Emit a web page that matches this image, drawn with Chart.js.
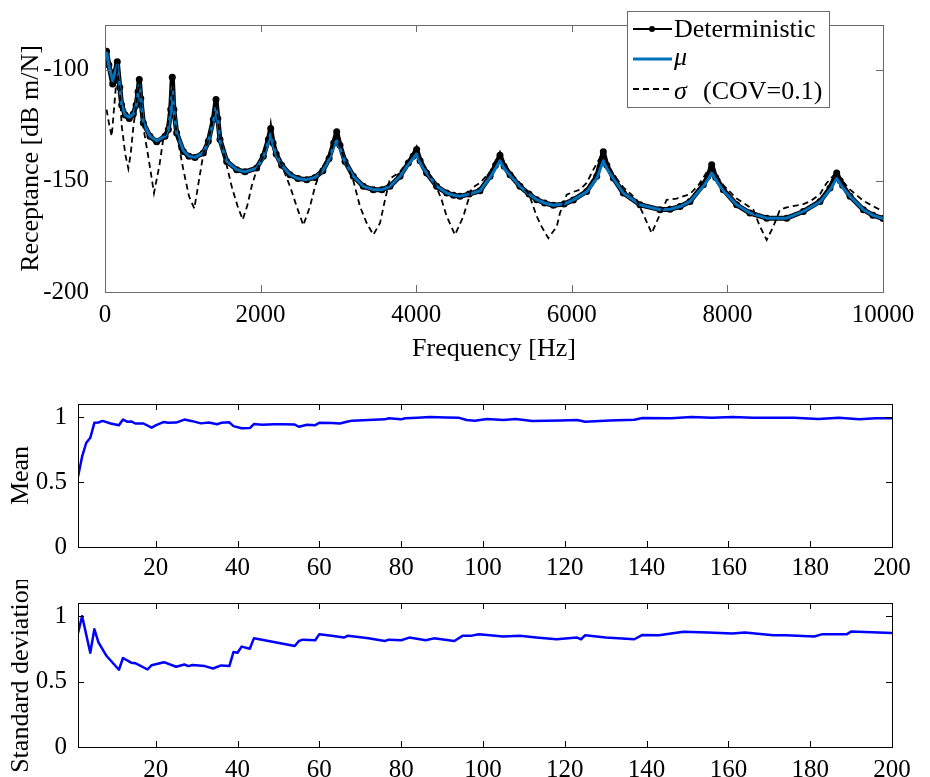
<!DOCTYPE html>
<html>
<head>
<meta charset="utf-8">
<script src="https://cdn.jsdelivr.net/npm/chart.js@4.4.1/dist/chart.umd.min.js"></script>
<style>
  body { margin: 0; background: #fff; }
  #wrap { position: relative; width: 930px; height: 777px; overflow: hidden; }
  canvas { position: absolute; left: 0; }
</style>
</head>
<body>
<div id="wrap">
  <canvas id="frf" width="930" height="380" style="top:0px"></canvas>
  <canvas id="mean" width="930" height="200" style="top:380px"></canvas>
  <canvas id="std" width="930" height="197" style="top:580px"></canvas>
</div>
<script>
/* ===============================
   DATA
================================*/
// top plot: receptance vs frequency
const detFreq = [20, 50, 99, 130, 158, 190, 214, 260, 312, 364, 400, 425, 441, 460, 493, 578, 664, 771, 814, 845, 865,
  885, 921, 1007, 1080, 1157, 1264, 1328, 1392, 1427, 1450, 1478, 1564, 1693, 1800, 1950, 2035, 2100, 2130,
  2160, 2200, 2271, 2378, 2480, 2592, 2700, 2800, 2880, 2940, 2978, 3020, 3085, 3192, 3320, 3449, 3560, 3663,
  3792, 3899, 3960, 4006, 4050, 4134, 4263, 4392, 4480, 4563, 4680, 4820, 4949, 5020, 5077, 5130, 5206, 5334,
  5450, 5549, 5650, 5763, 5900, 6020, 6191, 6320, 6405, 6450, 6534, 6662, 6877, 7134, 7262, 7391, 7519, 7690,
  7750, 7798, 7850, 7947, 8119, 8290, 8505, 8762, 8976, 9190, 9319, 9405, 9450, 9480, 9576, 9748, 9870, 10000];
const detDb = [-91.8, -98, -106.5, -101, -96.5, -108, -116, -120.5, -122, -120, -116, -110, -104.5, -113, -124, -130, -132.5, -130, -127, -118, -103.5,
  -118, -128.5, -136.8, -139, -139.5, -137.5, -132.3, -122.5, -113.5, -122, -131.5, -141.3, -145, -146, -144.3, -139, -131.5, -126.5,
  -133, -138, -143, -147.3, -149, -149.5, -148.5, -145.5, -140, -133, -128, -134, -141.3, -148, -152.5, -154, -154, -152.5,
  -148, -142, -139, -136, -141, -146.5, -152.5, -155.5, -156.5, -157, -156, -154.5, -148, -143, -138.5, -143.5, -147.3, -152.5,
  -156, -158.5, -160, -161, -160.5, -158.6, -154.8, -148, -137, -143, -148.8, -155.5, -160.8, -163, -162.8, -161.6, -159.3, -151.8,
  -148, -142.8, -148.5, -154, -160.8, -164.5, -166.8, -166.8, -163.8, -159.3, -153.3, -146.5, -150, -152, -157, -163, -165.5, -167];
const muDb = [-92, -98.5, -105, -101, -98, -108, -116, -120.5, -121.5, -120, -116.5, -111, -107, -113, -124, -130, -132, -130, -127, -119, -108,
  -118.5, -128.5, -136.5, -139, -139.5, -137.5, -132.5, -123.5, -117, -123, -132, -141.3, -145, -146, -144.3, -139.5, -132.5, -129,
  -134, -138.5, -143, -147.3, -149, -149.5, -148.5, -145.5, -140.5, -134.5, -132, -135.5, -141.5, -148, -152.5, -154, -154, -152.5,
  -148, -142.5, -140, -138, -142, -146.5, -152.5, -155.5, -156.5, -157, -156, -154.5, -148.5, -144.5, -141, -144.5, -147.5, -152.5,
  -156, -158.5, -160, -161, -160.5, -158.6, -155, -149, -141, -144.5, -149, -155.5, -160.8, -163, -162.8, -161.6, -159.3, -152.5,
  -149.5, -146.5, -149.5, -154.5, -160.8, -164.5, -166.8, -166.8, -163.8, -159.5, -154, -149, -151.5, -153, -157, -163, -165.5, -167];
const sigFreq = [20, 50, 86, 120, 158, 190, 214, 260, 300, 330, 364, 400, 441, 460, 493, 560, 630, 700, 750, 800, 865,
  885, 921, 1007, 1080, 1148, 1221, 1264, 1328, 1392, 1427, 1450, 1478, 1564, 1628, 1700, 1770, 1830, 1885, 1950, 2035,
  2100, 2130, 2160, 2200, 2271, 2378, 2464, 2549, 2635, 2700, 2785, 2880, 2940, 2978, 3020, 3085, 3192, 3278, 3363, 3449,
  3535, 3599, 3663, 3792, 3899, 4006, 4050, 4134, 4263, 4327, 4392, 4499, 4606, 4670, 4713, 4820, 4949, 5020, 5077, 5130,
  5206, 5334, 5450, 5549, 5612, 5698, 5806, 5848, 5934, 6020, 6105, 6191, 6277, 6405, 6450, 6534, 6662, 6760, 6834, 6941,
  7027, 7112, 7219, 7348, 7519, 7627, 7720, 7798, 7850, 7947, 8119, 8250, 8333, 8419, 8505, 8590, 8676, 8762, 8976, 9062,
  9190, 9276, 9405, 9450, 9576, 9748, 9919, 10000];
const sigDb = [-118, -124, -130, -116, -100, -109, -125, -138, -144.5, -138, -126, -116, -106, -113, -126, -140, -155.5, -143, -131, -127, -105,
  -118, -129, -145, -157, -162.5, -147, -138, -132, -122, -114, -122, -131, -143, -152.5, -161, -167.5, -161, -152.5, -145, -139,
  -130, -124, -132, -137, -143, -152.5, -161.6, -170, -161.6, -152.5, -144.3, -139, -133, -130, -135, -141, -150, -161.6, -169, -174.3,
  -169, -158.6, -149, -146, -141, -134.5, -140, -145, -153, -158.6, -166, -174.3, -166, -158.6, -153.3, -151, -146, -141, -137, -142,
  -146, -151, -156, -166, -170.6, -175.8, -170.6, -164.5, -156.3, -155, -154, -151, -145, -137, -142, -147, -153, -156, -158.6, -166.8,
  -173.6, -166.8, -158.6, -158, -156, -152, -147, -142, -147, -152, -158, -161, -163, -170.6, -176.6, -170.6, -163, -162, -160.5, -159.3,
  -156, -151, -146, -149, -154, -159, -162.3, -163.5];
const freqTicks = [0, 2000, 4000, 6000, 8000, 10000];
const dbTicks = [-200, -150, -100];

// middle plot: mean
const meanX = [1, 2, 3, 4, 5, 6, 7, 9, 11, 12, 13, 14, 15, 17, 19, 20, 22, 23, 25, 27, 29, 31, 33, 35, 36, 38, 39, 41, 43, 44,
  46, 49, 51, 54, 55, 57, 59, 60, 63, 65, 67, 68, 72, 76, 77, 80, 81, 84, 87, 91, 94, 96, 98, 101, 105, 108, 112, 119,
  123, 125, 131, 137, 139, 146, 151, 156, 161, 166, 176, 182, 187, 192, 196, 200];
const meanVal = [0.54, 0.695, 0.8, 0.84, 0.955, 0.958, 0.97, 0.95, 0.936, 0.98, 0.964, 0.966, 0.95, 0.95, 0.918, 0.935, 0.962, 0.956,
  0.957, 0.98, 0.968, 0.951, 0.957, 0.944, 0.955, 0.959, 0.93, 0.913, 0.915, 0.946, 0.94, 0.944, 0.944, 0.942, 0.925, 0.94, 0.937,
  0.956, 0.954, 0.95, 0.965, 0.972, 0.977, 0.982, 0.99, 0.982, 0.99, 0.995, 1.0, 0.997, 0.995, 0.977, 0.972, 0.985, 0.977, 0.985,
  0.969, 0.974, 0.977, 0.964, 0.974, 0.979, 0.992, 0.99, 1.0, 0.995, 1.0, 0.995, 0.995, 0.985, 0.995, 0.982, 0.99, 0.99];

// bottom plot: standard deviation
const stdX = [1, 2, 4, 5, 6, 8, 11, 12, 14, 15, 18, 19, 22, 25, 27, 28, 29, 32, 34, 36, 38, 39, 40, 41, 43, 44, 45, 54, 55, 56,
  59, 60, 63, 66, 67, 72, 76, 77, 80, 82, 86, 88, 93, 95, 97, 99, 105, 109, 113, 118, 123, 124, 125, 130, 137, 139, 143, 149,
  155, 161, 164, 171, 174, 181, 183, 189, 190, 200];
const stdVal = [0.87, 1.0, 0.72, 0.9, 0.8, 0.695, 0.59, 0.68, 0.644, 0.64, 0.592, 0.625, 0.648, 0.613, 0.63, 0.618, 0.626, 0.618,
  0.6, 0.623, 0.618, 0.725, 0.72, 0.767, 0.75, 0.83, 0.825, 0.772, 0.81, 0.82, 0.815, 0.862, 0.85, 0.836, 0.85, 0.83, 0.81, 0.82,
  0.815, 0.836, 0.815, 0.83, 0.81, 0.849, 0.849, 0.862, 0.844, 0.849, 0.836, 0.823, 0.836, 0.823, 0.854, 0.836, 0.823, 0.856, 0.854,
  0.88, 0.874, 0.867, 0.874, 0.854, 0.854, 0.844, 0.862, 0.862, 0.882, 0.87];

const countTicks = [20, 40, 60, 80, 100, 120, 140, 160, 180, 200];
const unitTicks = [0, 0.5, 1];

/* ===============================
   HELPERS
================================*/
const SERIF = "'Liberation Serif', 'Times New Roman', serif";
Chart.defaults.font.family = SERIF;
Chart.defaults.color = '#000';

const pts = (xs, ys) => xs.map((x, i) => ({ x: x, y: ys[i] }));

// MATLAB style box with inward ticks on all four sides
const boxTicks = {
  id: 'boxTicks',
  afterDatasetsDraw(chart, args, opts) {
    const { ctx, chartArea: a, scales: { x, y } } = chart;
    const len = opts.len || 6;
    ctx.save();
    ctx.strokeStyle = opts.color || '#000';
    ctx.lineWidth = opts.width || 1;
    ctx.beginPath();
    x.ticks.forEach(t => {
      const px = Math.round(x.getPixelForValue(t.value)) + 0.5;
      ctx.moveTo(px, a.bottom); ctx.lineTo(px, a.bottom - len);
      ctx.moveTo(px, a.top); ctx.lineTo(px, a.top + len);
    });
    y.ticks.forEach(t => {
      const py = Math.round(y.getPixelForValue(t.value)) + 0.5;
      ctx.moveTo(a.left, py); ctx.lineTo(a.left + len, py);
      ctx.moveTo(a.right, py); ctx.lineTo(a.right - len, py);
    });
    ctx.stroke();
    ctx.strokeRect(Math.round(a.left) + 0.5, Math.round(a.top) + 0.5, Math.round(a.width), Math.round(a.height));
    ctx.restore();
  }
};

// legend box of the top plot (overlaps the frame like in MATLAB)
const frfLegend = {
  id: 'frfLegend',
  afterDraw(chart) {
    const ctx = chart.ctx;
    const bx = 627, by = 11, bw = 202, bh = 96;
    ctx.save();
    ctx.fillStyle = '#fff';
    ctx.fillRect(bx, by, bw, bh);
    ctx.strokeStyle = '#6a6a6a';
    ctx.lineWidth = 1;
    ctx.strokeRect(bx + 0.5, by + 0.5, bw, bh);

    const x0 = 633, x1 = 672, tx = 674;
    // Deterministic
    ctx.strokeStyle = '#000'; ctx.lineWidth = 2;
    ctx.beginPath(); ctx.moveTo(x0, 29); ctx.lineTo(x1, 29); ctx.stroke();
    ctx.fillStyle = '#000';
    ctx.beginPath(); ctx.arc(652, 29, 3, 0, Math.PI * 2); ctx.fill();
    // mu
    ctx.strokeStyle = '#0072bd'; ctx.lineWidth = 3;
    ctx.beginPath(); ctx.moveTo(x0, 59); ctx.lineTo(x1, 59); ctx.stroke();
    // sigma
    ctx.strokeStyle = '#000'; ctx.lineWidth = 1.8; ctx.setLineDash([6, 4]);
    ctx.beginPath(); ctx.moveTo(x0, 89); ctx.lineTo(x1, 89); ctx.stroke();
    ctx.setLineDash([]);

    ctx.fillStyle = '#000';
    ctx.textBaseline = 'alphabetic';
    ctx.font = '26px ' + SERIF;
    ctx.fillText('Deterministic', tx, 37);
    ctx.font = 'italic 26px ' + SERIF;
    ctx.fillText('\u03bc', tx, 65);
    ctx.fillText('\u03c3', tx, 99);
    ctx.font = '26px ' + SERIF;
    ctx.fillText('(COV=0.1)', 703, 99);
    ctx.restore();
  }
};

function axisX(min, max, list, height, pad) {
  return {
    type: 'linear', min: min, max: max,
    grid: { display: false }, border: { display: false },
    afterBuildTicks: ax => { ax.ticks = list.map(v => ({ value: v })); },
    afterFit: ax => { ax.height = height; },
    ticks: { font: { size: 25 }, padding: pad, maxRotation: 0, autoSkip: false, callback: v => String(v) }
  };
}
function axisY(min, max, list, width, pad, title, titlePad) {
  return {
    min: min, max: max,
    grid: { display: false }, border: { display: false },
    afterBuildTicks: ax => { ax.ticks = list.map(v => ({ value: v })); },
    afterFit: ax => { ax.width = width; },
    ticks: { font: { size: 25 }, padding: pad, callback: v => String(v) },
    title: { display: true, text: title, font: { size: 26 }, padding: { top: titlePad, bottom: 0 } }
  };
}

/* ===============================
   TOP: RECEPTANCE
================================*/
const topX = axisX(0, 10000, freqTicks, 88, 0);
topX.title = { display: true, text: 'Frequency [Hz]', font: { size: 26 }, padding: { top: 0, bottom: 15 } };

new Chart(document.getElementById('frf'), {
  type: 'line',
  data: {
    datasets: [
      { label: 'Deterministic', data: pts(detFreq, detDb), borderColor: '#000', borderWidth: 5,
        borderJoinStyle: 'round', borderCapStyle: 'round',
        pointRadius: 3.5, pointBackgroundColor: '#000', pointBorderWidth: 0, order: 3 },
      { label: '\u03bc', data: pts(detFreq, muDb), borderColor: '#0072bd', borderWidth: 3,
        borderJoinStyle: 'round', pointRadius: 0, order: 2 },
      { label: '\u03c3 (COV=0.1)', data: pts(sigFreq, sigDb), borderColor: '#000', borderWidth: 1.8,
        borderDash: [6, 4], pointRadius: 0, order: 1 }
    ]
  },
  options: {
    responsive: false, animation: false, events: [],
    layout: { padding: { top: 25, right: 47, left: 0, bottom: 0 } },
    elements: { line: { tension: 0 } },
    plugins: { legend: { display: false }, tooltip: { enabled: false }, boxTicks: { color: '#6a6a6a', len: 7 } },
    scales: { x: topX, y: axisY(-200, -80, dbTicks, 105, 8, 'Receptance [dB m/N]', 16) }
  },
  plugins: [boxTicks, frfLegend]
});

/* ===============================
   MIDDLE / BOTTOM: CONVERGENCE
================================*/
function convChart(id, xs, ys, title, padTop, xHeight, labelPad) {
  new Chart(document.getElementById(id), {
    type: 'line',
    data: { datasets: [{ data: pts(xs, ys), borderColor: '#0000ff', borderWidth: 2.5,
      borderJoinStyle: 'round', pointRadius: 0 }] },
    options: {
      responsive: false, animation: false, events: [],
      layout: { padding: { top: padTop, right: 38, left: 0, bottom: 0 } },
      elements: { line: { tension: 0 } },
      plugins: { legend: { display: false }, tooltip: { enabled: false }, boxTicks: { color: '#000', len: 6 } },
      scales: {
        x: axisX(1, 200, countTicks, xHeight, labelPad),
        y: axisY(0, 1.1, unitTicks, 78, 3, title, 6)
      }
    },
    plugins: [boxTicks]
  });
}

convChart('mean', meanX, meanVal, 'Mean', 24, 33, -2);
convChart('std', stdX, stdVal, 'Standard deviation', 23, 30, 0);
</script>
</body>
</html>
